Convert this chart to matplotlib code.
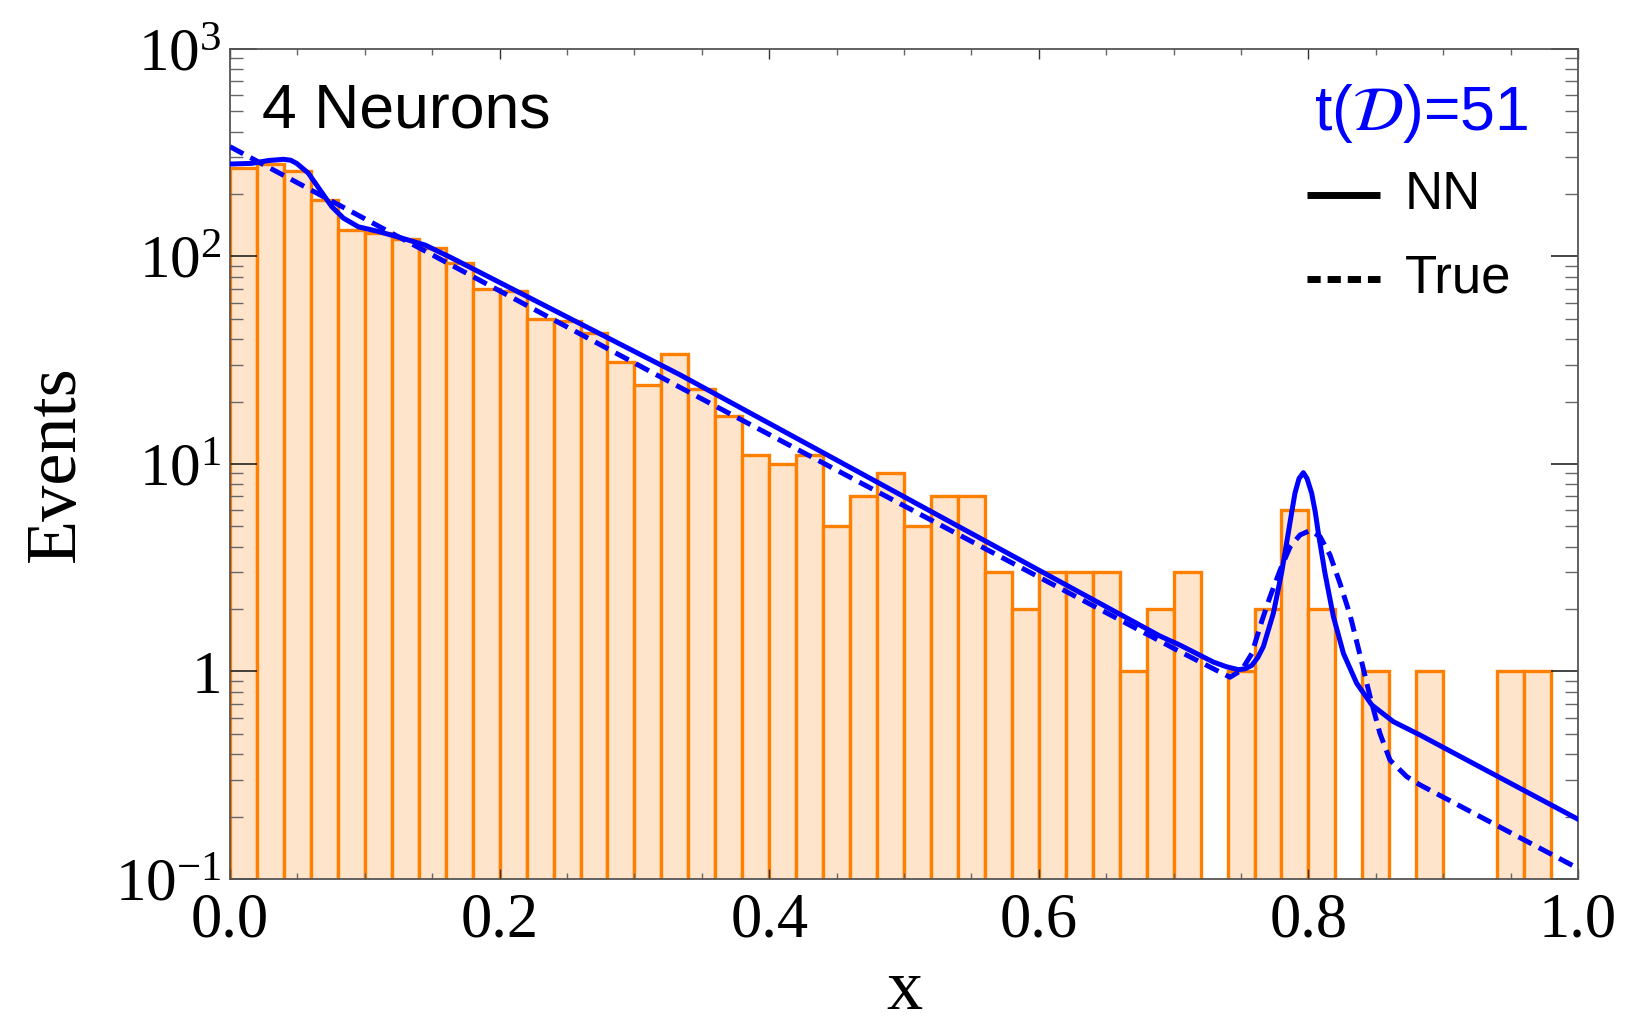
import matplotlib
matplotlib.use("Agg")
import matplotlib.pyplot as plt
import numpy as np
from matplotlib.ticker import MultipleLocator, LogLocator, NullFormatter, FuncFormatter

# histogram: 50 bins of width 0.02 on [0, 1]
bin_width = 0.02
counts = [266, 279, 259, 187, 134, 130, 121, 110, 93, 70,
          68, 50, 49, 43, 31, 24, 34, 23, 17, 11,
          10, 11, 5, 7, 9, 5, 7, 7, 3, 2,
          3, 3, 3, 1, 2, 3, 0, 1, 2, 6,
          2, 0, 1, 0, 1, 0, 0, 1, 1, 0]

# NN fit (solid)
nn_x = [0.0, 0.016, 0.0284, 0.0396, 0.045, 0.0494, 0.0581, 0.0668, 0.0754, 0.0841,
        0.0952, 0.110, 0.1249, 0.1447, 0.165, 0.3338, 0.50, 0.69, 0.7047, 0.7295,
        0.739, 0.748, 0.753, 0.758, 0.7625, 0.7666, 0.774, 0.780, 0.7825, 0.785,
        0.7875, 0.790, 0.793, 0.7962, 0.799, 0.8024, 0.805, 0.8074, 0.8123, 0.8185,
        0.826, 0.8358, 0.847, 0.863, 0.8828, 1.0]
nn_y = [279, 281, 290, 294, 291, 281, 252, 209, 174, 153,
        139, 132, 124, 113.5, 98, 26.9, 6.95, 1.48, 1.34, 1.11,
        1.055, 1.02, 1.03, 1.07, 1.17, 1.32, 1.91, 2.97, 3.7, 4.63,
        5.8, 7.23, 8.5, 9.08, 8.5, 7.23, 5.9, 4.63, 2.97, 1.84,
        1.22, 0.877, 0.69, 0.573, 0.494, 0.194]

# true distribution (dashed)
true_x = [0.0, 0.3338, 0.7047, 0.7418, 0.7505, 0.758, 0.7653, 0.7715, 0.779, 0.7864,
          0.7938, 0.8012, 0.8086, 0.816, 0.8234, 0.8309, 0.838, 0.8457, 0.853, 0.8605,
          0.873, 0.8828, 1.0]
true_y = [338, 23.4, 1.246, 0.938, 1.016, 1.22, 1.74, 2.29, 3.08, 3.99,
          4.55, 4.78, 4.47, 3.64, 2.66, 1.87, 1.22, 0.757, 0.504, 0.374,
          0.311, 0.284, 0.1125]

plt.rcParams['mathtext.fontset'] = 'stix'
serif = 'Liberation Serif'
sans = 'Liberation Sans'
plt.rcParams['font.family'] = serif

fig = plt.figure(figsize=(16.27, 10.29), dpi=100)
ax = fig.add_axes([0.1414, 0.1458, 0.8285, 0.8066])
ax.set_yscale('log')

counts = np.array(counts)
lefts = np.arange(len(counts)) * bin_width
keep = counts > 0
ax.bar(lefts[keep], counts[keep], width=bin_width, align='edge',
       color='#ffe4cc', edgecolor='#ff8000', linewidth=2.4, zorder=1)

ax.plot(nn_x, nn_y, color='#0000ff', lw=3.6, zorder=3, solid_joinstyle='round')
ax.plot(true_x, true_y, color='#0000ff', lw=3.6, dashes=(3, 1.6),
        dash_capstyle='butt', zorder=3)

ax.set_xlim(0, 1)
ax.set_ylim(0.1, 1000)

# ticks
ax.xaxis.set_major_locator(MultipleLocator(0.2))
ax.xaxis.set_minor_locator(MultipleLocator(0.05))
ax.xaxis.set_major_formatter(FuncFormatter(lambda v, p: f'{v:.1f}'))
ax.yaxis.set_major_locator(LogLocator(base=10, numticks=10))
ax.yaxis.set_minor_locator(LogLocator(base=10, subs=np.arange(2, 10), numticks=10))
ax.yaxis.set_minor_formatter(NullFormatter())


def ylab(v, p):
    e = int(round(np.log10(v)))
    if e == 0:
        return '1'
    return r'$\mathdefault{10^{%d}}$' % e


ax.yaxis.set_major_formatter(FuncFormatter(ylab))

ax.tick_params(which='both', direction='in', top=True, right=True)
ax.tick_params(axis='x', labelsize=45)
ax.tick_params(axis='y', labelsize=44)
ax.tick_params(axis='x', which='major', length=7.2, width=1.0, color='#333333', pad=10)
ax.tick_params(axis='x', which='minor', length=4.3, width=1.0, color='#666666')
ax.tick_params(axis='y', which='major', length=19.4, width=1.1, color='#111111', pad=6)
ax.tick_params(axis='y', which='minor', length=9.4, width=1.0, color='#666666')
for lab in ax.get_xticklabels() + ax.get_yticklabels():
    lab.set_fontfamily(serif)

for s in ax.spines.values():
    s.set_color('#555555')
    s.set_linewidth(1.3)

ax.set_xlabel('x', fontsize=52, va='top')
ax.xaxis.set_label_coords(0.5, -0.0964)
ax.set_ylabel('Events', fontsize=52)
ax.yaxis.set_label_coords(-0.1046, 0.5)

# annotations
ax.text(0.0234, 0.9053, '4 Neurons', transform=ax.transAxes, fontsize=45,
        family=sans, va='baseline', ha='left')
ax.text(0.9631, 0.9024, r't($\mathcal{D}$)=51', transform=ax.transAxes, fontsize=45,
        family=sans, va='baseline', ha='right', color='#0000ff')

# legend drawn by hand
ax.plot([0.799, 0.853], [0.824, 0.824], transform=ax.transAxes, color='black',
        lw=5, solid_capstyle='butt', clip_on=False)
ax.text(0.8717, 0.8069, 'NN', transform=ax.transAxes, fontsize=38, family=sans,
        va='baseline', ha='left')
ax.plot([0.799, 0.853], [0.7225, 0.7225], transform=ax.transAxes, color='black',
        lw=5, dashes=(1.9, 1.0), dash_capstyle='butt', clip_on=False)
ax.text(0.8717, 0.7064, 'True', transform=ax.transAxes, fontsize=38, family=sans,
        va='baseline', ha='left')

fig.savefig('out.png', dpi=100)
